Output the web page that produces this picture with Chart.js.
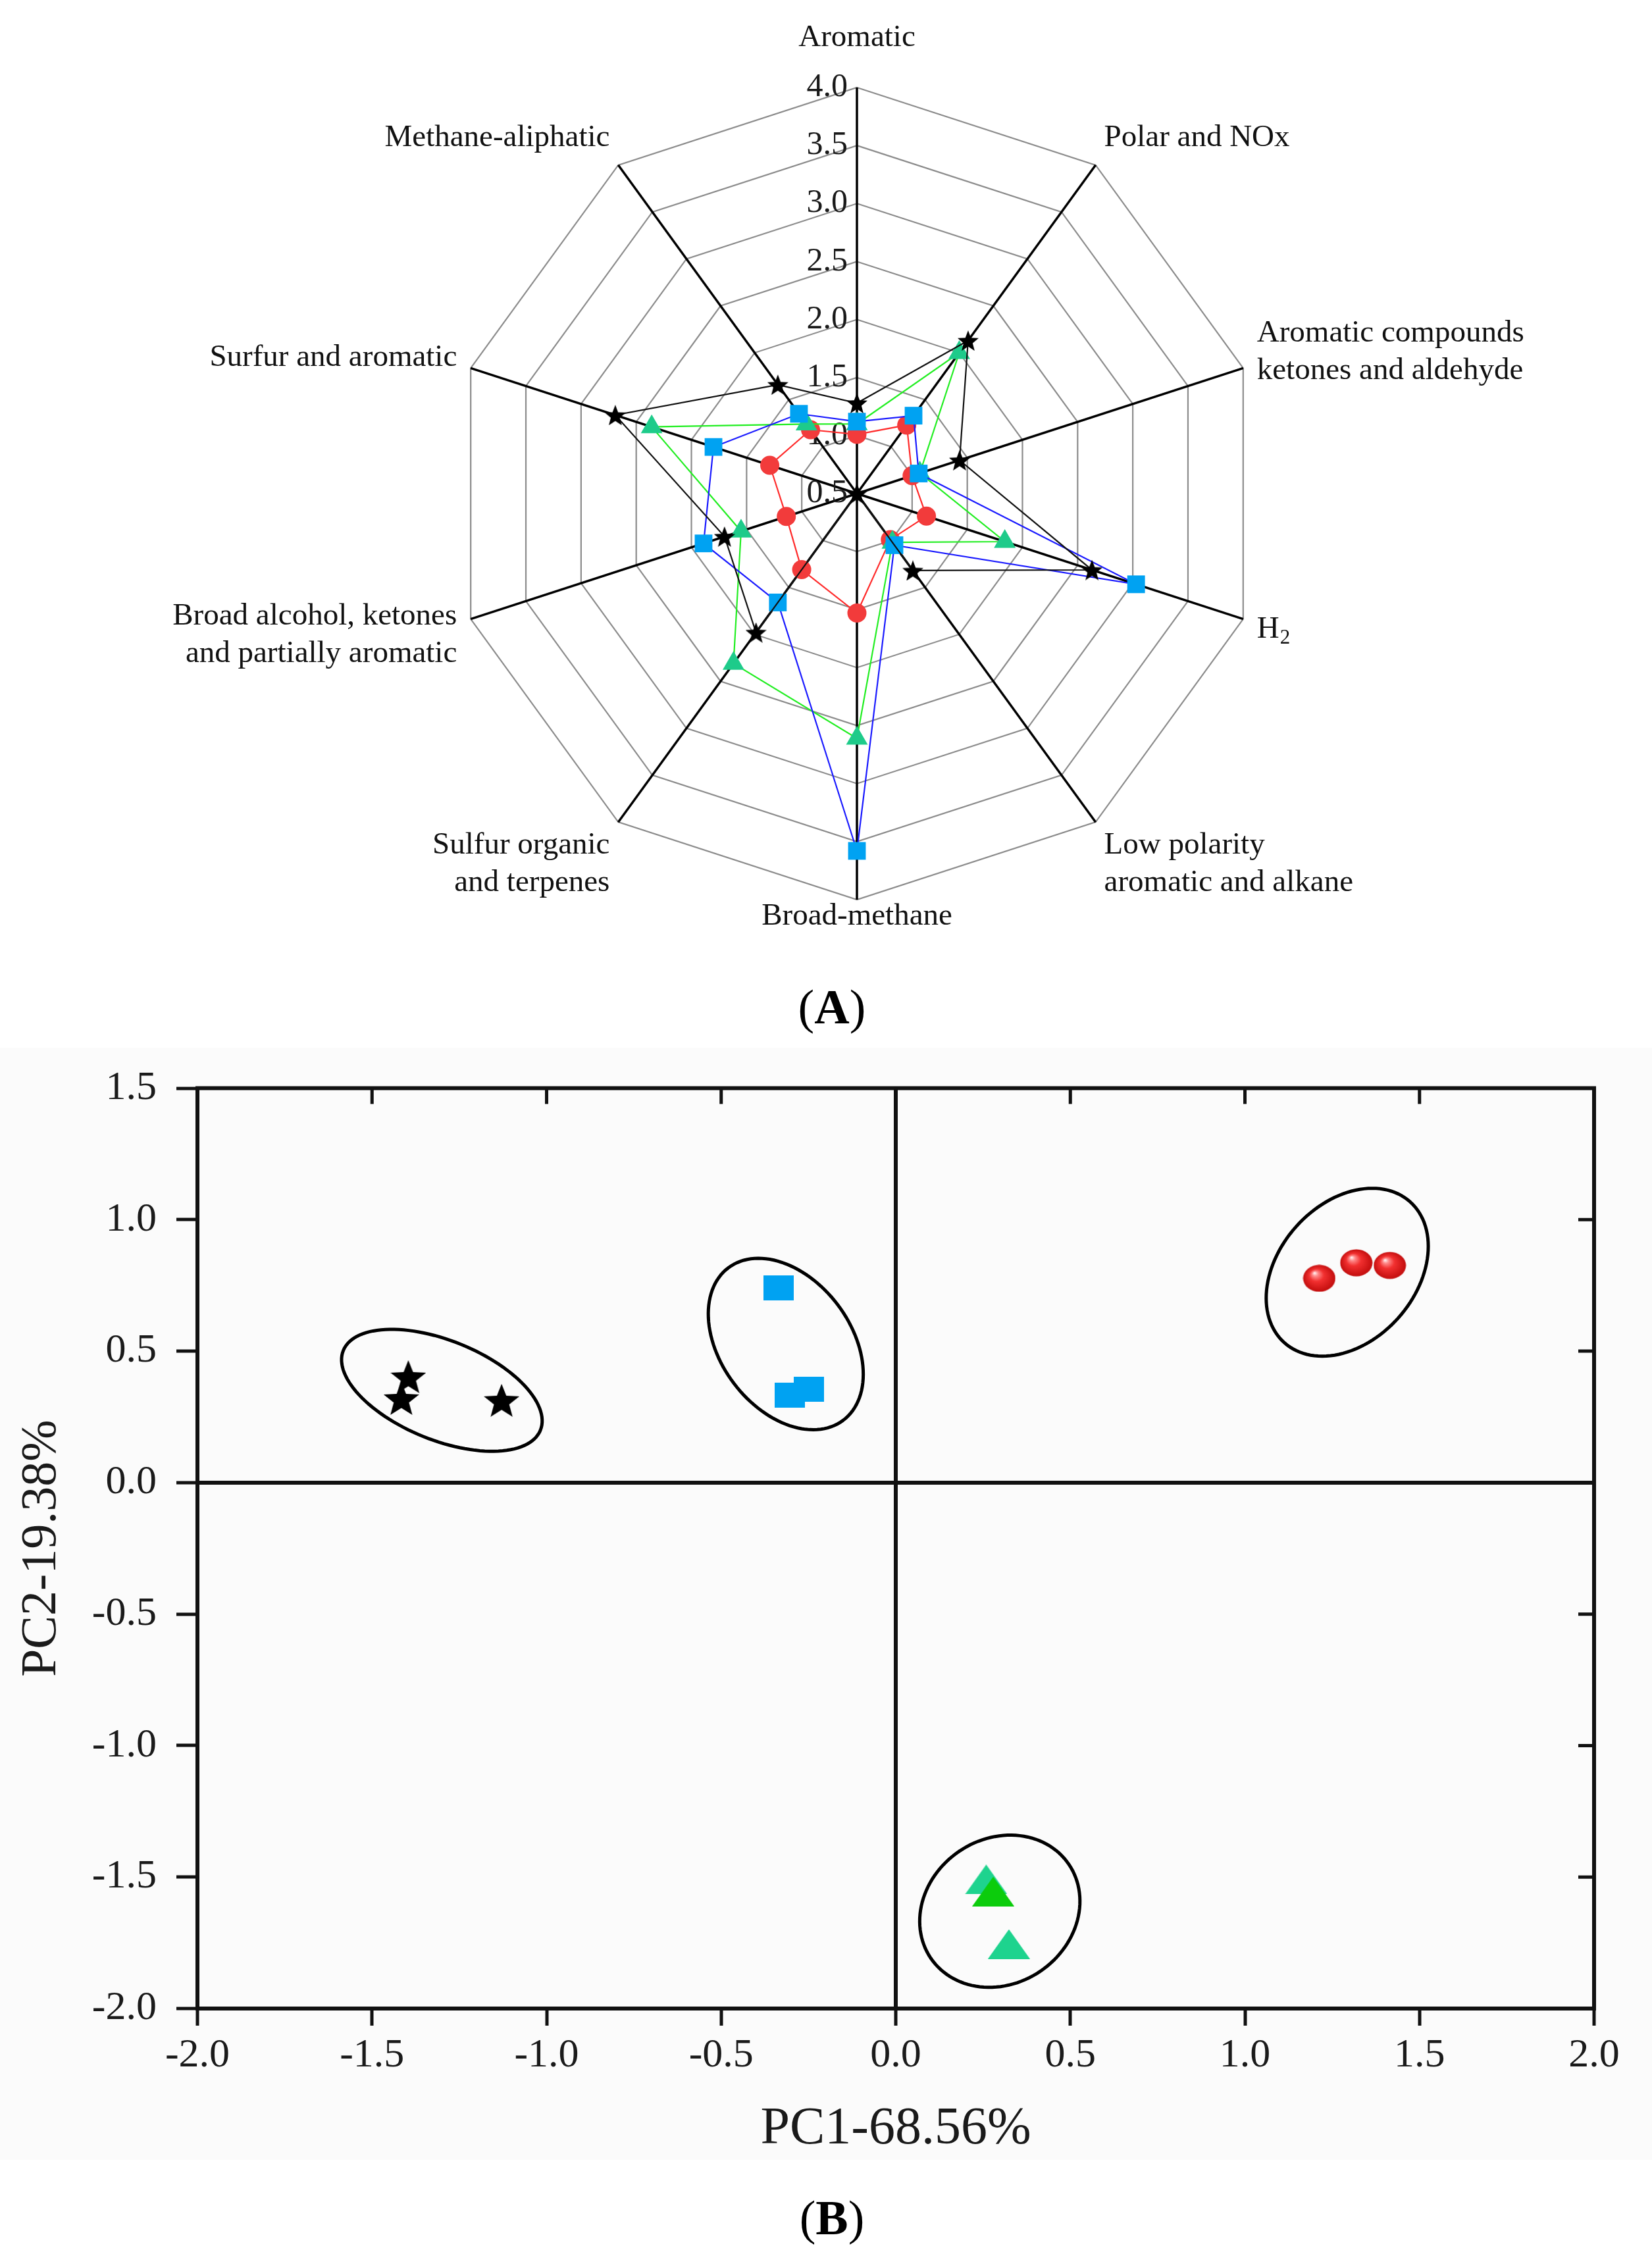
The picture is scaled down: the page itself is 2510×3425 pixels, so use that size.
<!DOCTYPE html>
<html>
<head>
<meta charset="utf-8">
<title>Radar and PCA</title>
<script src="https://cdn.jsdelivr.net/npm/chart.js@4.4.1/dist/chart.umd.min.js"></script>
<style>
  html, body { margin: 0; padding: 0; background: #fff; }
  body { width: 2510px; height: 3425px; position: relative; overflow: hidden; font-family: 'Liberation Serif', 'Times New Roman', serif; }
  #radarBox { position: absolute; left: 0; top: 0; width: 2510px; height: 1500px; }
  #pcaBg { position: absolute; left: 0; top: 1592px; width: 2510px; height: 1690px; background: #fbfbfb; }
  #pcaBox { position: absolute; left: 0; top: 1560px; width: 2510px; height: 1740px; }
  .panel { position: absolute; left: 1114px; width: 300px; text-align: center; font-size: 74px; line-height: 80px; color: #000; }
</style>
</head>
<body>
<div id="radarBox"><canvas id="radarChart"></canvas></div>
<div class="panel" style="top:1490px;">(<b>A</b>)</div>
<div id="pcaBg"></div>
<div id="pcaBox"><canvas id="pcaChart"></canvas></div>
<div class="panel" style="top:3330px;">(<b>B</b>)</div>

<script>
const SERIF = "'Liberation Serif', 'Times New Roman', serif";

// ---- (A) radar data ----
const categories = [
    ['Aromatic'],
    ['Polar and NOx'],
    ['Aromatic compounds', 'ketones and aldehyde'],
    ['H2'],
    ['Low polarity', 'aromatic and alkane'],
    ['Broad-methane'],
    ['Sulfur organic', 'and terpenes'],
    ['Broad alcohol, ketones', 'and partially aromatic'],
    ['Surfur and aromatic'],
    ['Methane-aliphatic']
];
const radarMin = 0.5;
const radarMax = 4.0;
const radarStep = 0.5;

const redSeries   = [1.01, 1.23, 1.00, 1.13, 0.99, 1.53, 1.31, 1.14, 1.29, 1.18];
const greenSeries = [1.10, 2.00, 1.07, 1.84, 1.02, 2.61, 2.31, 1.55, 2.36, 1.24];
const blueSeries  = [1.12, 1.33, 1.06, 3.03, 1.05, 3.58, 1.66, 1.89, 1.80, 1.35];
const blackSeries = [1.28, 2.13, 1.43, 2.63, 1.32, 0.50, 1.98, 1.70, 2.69, 1.66];

// ---- (B) PCA scores ----
const starX   = [-1.396, -1.416, -1.129];
const starY   = [0.403, 0.320, 0.313];
const squareX = [-0.336, -0.303, -0.248];
const squareY = [0.741, 0.333, 0.355];
const sphereX = [1.213, 1.319, 1.415];
const sphereY = [0.777, 0.836, 0.826];
const triX    = [0.259, 0.279, 0.324];
const triY    = [-1.509, -1.555, -1.755];

// confidence ellipses: centre and two semi-axis vectors, in data units
const ellipseCx = [-1.300, -0.315, 1.293, 0.298];
const ellipseCy = [0.351, 0.527, 0.800, -1.630];
const ellipseU  = [[0.2823, -0.1515], [0.1645, -0.2899], [0.1802, 0.2678], [0.1977, 0.1785]];
const ellipseV  = [[-0.0534, -0.1755], [-0.149, -0.149], [0.1463, -0.1737], [0.1165, -0.2278]];

const pcaXTitle = 'PC1-68.56%';
const pcaYTitle = 'PC2-19.38%';

// ---- marker images ----
function makeStar(w, h, color) {
    const c = document.createElement('canvas');
    c.width = w; c.height = h;
    const g = c.getContext('2d');
    g.translate(w / 2, h / 2);
    g.scale(w / 1.902, h / 1.809);
    g.translate(0, 0.095);
    g.beginPath();
    for (let k = 0; k < 10; k++) {
        const a = -Math.PI / 2 + k * Math.PI / 5;
        const rr = k % 2 === 0 ? 1 : 0.43;
        const px = Math.cos(a) * rr, py = Math.sin(a) * rr;
        if (k === 0) g.moveTo(px, py); else g.lineTo(px, py);
    }
    g.closePath();
    g.fillStyle = color;
    g.fill();
    return c;
}

function makeBox(w, h, color) {
    const c = document.createElement('canvas');
    c.width = w; c.height = h;
    const g = c.getContext('2d');
    g.fillStyle = color;
    g.fillRect(0, 0, w, h);
    return c;
}

function makeTriangle(w, h, color) {
    const c = document.createElement('canvas');
    c.width = w; c.height = h;
    const g = c.getContext('2d');
    g.beginPath();
    g.moveTo(w / 2, 0);
    g.lineTo(w, h);
    g.lineTo(0, h);
    g.closePath();
    g.fillStyle = color;
    g.fill();
    return c;
}

function makeSphere(w, h) {
    const c = document.createElement('canvas');
    c.width = w; c.height = h;
    const g = c.getContext('2d');
    const r = w / 2;
    g.translate(w / 2, h / 2);
    g.scale(1, h / w);
    const grad = g.createRadialGradient(-0.3 * r, -0.4 * r, 0, 0, 0, r);
    grad.addColorStop(0, '#ffffff');
    grad.addColorStop(0.18, '#ff8a8a');
    grad.addColorStop(0.45, '#f23030');
    grad.addColorStop(1, '#c10c0c');
    g.beginPath();
    g.arc(0, 0, r - 0.5, 0, Math.PI * 2);
    g.fillStyle = grad;
    g.fill();
    return c;
}

const radarStar = makeStar(32, 31, '#000');

// ---- radar extras: tick labels on the left of the vertical axis, category labels ----
const radarDecor = {
    id: 'radarDecor',
    beforeDatasetsDraw(chart) {
        const r = chart.scales.r;
        const ctx = chart.ctx;
        ctx.save();
        ctx.font = '50px ' + SERIF;
        ctx.fillStyle = '#1a1a1a';
        ctx.textAlign = 'right';
        ctx.textBaseline = 'middle';
        r.ticks.forEach(t => {
            const y = r.yCenter - r.getDistanceFromCenterForValue(t.value);
            ctx.fillText(t.value.toFixed(1), r.xCenter - 14, y);
        });
        ctx.restore();
    },
    afterDraw(chart) {
        const r = chart.scales.r;
        const ctx = chart.ctx;
        const lineH = 57;
        ctx.save();
        ctx.fillStyle = '#111';
        ctx.textBaseline = 'middle';
        chart.data.labels.forEach((lines, i) => {
            const a = r.getIndexAngle(i);
            const p = r.getPointPosition(i, r.drawingArea + 22);
            const s = Math.sin(a), co = Math.cos(a);
            const h = lines.length * lineH;
            let cy = p.y - co * h / 2;
            let align = 'center';
            if (Math.abs(s) < 0.1) cy -= 25;
            else align = s > 0 ? 'left' : 'right';
            lines.forEach((txt, k) => {
                const y = cy - h / 2 + lineH * (k + 0.5);
                ctx.textAlign = align;
                if (txt === 'H2') {
                    ctx.font = '47px ' + SERIF;
                    ctx.textAlign = 'left';
                    ctx.fillText('H', p.x, y);
                    const wH = ctx.measureText('H').width;
                    ctx.font = '31px ' + SERIF;
                    ctx.fillText('2', p.x + wH + 1, y + 14);
                } else {
                    ctx.font = '47px ' + SERIF;
                    ctx.fillText(txt, p.x, y);
                }
            });
        });
        ctx.restore();
    }
};

new Chart(document.getElementById('radarChart').getContext('2d'), {
    type: 'radar',
    data: {
        labels: categories,
        datasets: [
            {
                label: 'black', data: blackSeries, order: 0,
                borderColor: '#111', borderWidth: 2.2, fill: false,
                pointStyle: radarStar, pointRadius: 12
            },
            {
                label: 'blue', data: blueSeries, order: 1,
                borderColor: '#1a1aff', borderWidth: 2.2, fill: false,
                pointStyle: 'rect', pointRadius: 19,
                pointBackgroundColor: '#00a2f2', pointBorderColor: '#00a2f2', pointBorderWidth: 0
            },
            {
                label: 'green', data: greenSeries, order: 2,
                borderColor: '#22ee22', borderWidth: 2.2, fill: false,
                pointStyle: 'triangle', pointRadius: 19,
                pointBackgroundColor: '#1ecb8a', pointBorderColor: '#1ecb8a', pointBorderWidth: 0
            },
            {
                label: 'red', data: redSeries, order: 3,
                borderColor: '#ff2a2a', borderWidth: 2.2, fill: false,
                pointStyle: 'circle', pointRadius: 14.5,
                pointBackgroundColor: '#f23b3b', pointBorderColor: '#f23b3b', pointBorderWidth: 0
            }
        ]
    },
    options: {
        responsive: true,
        maintainAspectRatio: false,
        animation: false,
        devicePixelRatio: 1,
        layout: { padding: { left: 685, right: 591, top: 133, bottom: 133 } },
        elements: { line: { tension: 0 } },
        scales: {
            r: {
                min: radarMin,
                max: radarMax,
                ticks: { display: false, stepSize: radarStep },
                grid: { color: '#8c8c8c', lineWidth: 2.2 },
                angleLines: { color: '#000', lineWidth: 3.5 },
                pointLabels: { display: false }
            }
        },
        plugins: { legend: { display: false }, tooltip: { enabled: false } }
    },
    plugins: [radarDecor]
});

// ---- PCA extras: ellipses, frame, inward ticks on top/right ----
const pcaDecor = {
    id: 'pcaDecor',
    beforeDatasetsDraw(chart) {
        const xs = chart.scales.x, ys = chart.scales.y;
        const area = chart.chartArea;
        const ctx = chart.ctx;
        ctx.save();
        ctx.strokeStyle = '#000';
        ctx.lineWidth = 5;
        ellipseCx.forEach((cx, i) => {
            ctx.beginPath();
            for (let k = 0; k <= 120; k++) {
                const t = k / 120 * Math.PI * 2;
                const dx = ellipseU[i][0] * Math.cos(t) + ellipseV[i][0] * Math.sin(t);
                const dy = ellipseU[i][1] * Math.cos(t) + ellipseV[i][1] * Math.sin(t);
                const px = xs.getPixelForValue(cx + dx);
                const py = ys.getPixelForValue(ellipseCy[i] + dy);
                if (k === 0) ctx.moveTo(px, py); else ctx.lineTo(px, py);
            }
            ctx.closePath();
            ctx.stroke();
        });

        ctx.strokeStyle = '#111';
        ctx.lineWidth = 6;
        ctx.strokeRect(area.left, area.top, area.right - area.left, area.bottom - area.top);
        ctx.lineWidth = 5;
        ctx.beginPath();
        xs.ticks.forEach(t => {
            const px = xs.getPixelForValue(t.value);
            ctx.moveTo(px, area.top);
            ctx.lineTo(px, area.top + 24);
        });
        ys.ticks.forEach(t => {
            const py = ys.getPixelForValue(t.value);
            ctx.moveTo(area.right, py);
            ctx.lineTo(area.right - 24, py);
        });
        ctx.stroke();
        ctx.restore();
    }
};

const zeroLine = c => (c.tick && Math.abs(c.tick.value) < 1e-9) ? '#111' : 'rgba(0,0,0,0)';

new Chart(document.getElementById('pcaChart').getContext('2d'), {
    type: 'scatter',
    data: {
        datasets: [
            {
                label: 'stars',
                data: starX.map((x, i) => ({ x: x, y: starY[i] })),
                pointStyle: makeStar(54, 50, '#000'), pointRadius: 10
            },
            {
                label: 'squares',
                data: squareX.map((x, i) => ({ x: x, y: squareY[i] })),
                pointStyle: makeBox(46, 38, '#00a2f2'), pointRadius: 10
            },
            {
                label: 'spheres',
                data: sphereX.map((x, i) => ({ x: x, y: sphereY[i] })),
                pointStyle: makeSphere(50, 42), pointRadius: 10
            },
            {
                label: 'triangles',
                data: triX.map((x, i) => ({ x: x, y: triY[i] })),
                pointStyle: [makeTriangle(64, 45, '#1ed38e'), makeTriangle(64, 45, '#0ccc0c'), makeTriangle(64, 45, '#1ed38e')],
                pointRadius: 10
            }
        ]
    },
    options: {
        responsive: true,
        maintainAspectRatio: false,
        animation: false,
        devicePixelRatio: 1,
        layout: { padding: { left: 0, right: 88, top: 93.5, bottom: 0 } },
        scales: {
            x: {
                type: 'linear',
                min: -2, max: 2,
                afterFit: s => { s.height = 248; },
                ticks: {
                    stepSize: 0.5, padding: 9, color: '#1a1a1a',
                    font: { family: SERIF, size: 62 },
                    callback: v => v.toFixed(1)
                },
                grid: { color: zeroLine, lineWidth: 6, tickColor: '#111', tickWidth: 5, tickLength: 26 },
                border: { display: false },
                title: {
                    display: true, text: pcaXTitle, color: '#1a1a1a',
                    font: { family: SERIF, size: 80 }, padding: { top: 0, bottom: 16 }
                }
            },
            y: {
                type: 'linear',
                min: -2, max: 1.5,
                afterFit: s => { s.width = 300; },
                ticks: {
                    stepSize: 0.5, padding: 30, color: '#1a1a1a',
                    font: { family: SERIF, size: 62 },
                    callback: v => v.toFixed(1)
                },
                grid: { color: zeroLine, lineWidth: 6, tickColor: '#111', tickWidth: 5, tickLength: 32 },
                border: { display: false },
                title: {
                    display: true, text: pcaYTitle, color: '#1a1a1a',
                    font: { family: SERIF, size: 76 }, padding: { top: 18, bottom: 0 }
                }
            }
        },
        plugins: { legend: { display: false }, tooltip: { enabled: false } }
    },
    plugins: [pcaDecor]
});
</script>
</body>
</html>
